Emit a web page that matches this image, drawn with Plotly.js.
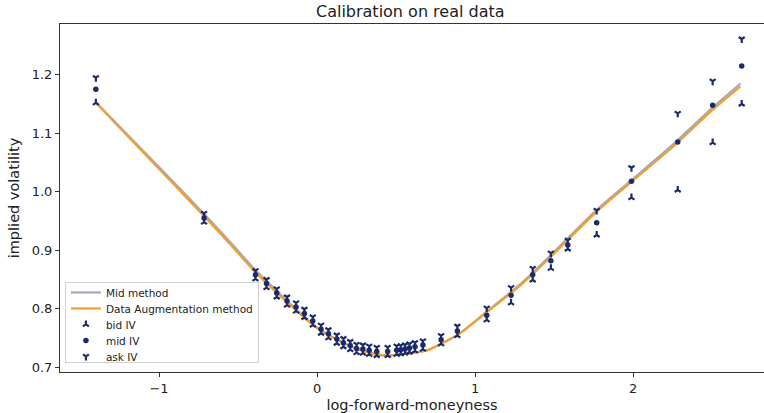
<!DOCTYPE html>
<html>
<head>
<meta charset="utf-8">
<script src="https://cdn.plot.ly/plotly-3.0.1.min.js"></script>
<style>html,body{margin:0;padding:0;background:#fff;}#chart{width:764px;height:413px;}</style>
</head>
<body>
<div id="chart"></div>
<script>
// Market quotes (log-forward-moneyness, implied vols)
const moneyness = [-1.40, -0.715, -0.39, -0.32, -0.255, -0.19, -0.133, -0.08, -0.027, 0.025, 0.072, 0.125, 0.167, 0.21, 0.25, 0.29, 0.33, 0.378, 0.447, 0.504, 0.53, 0.557, 0.585, 0.62, 0.67, 0.785, 0.888, 1.074, 1.228, 1.365, 1.48, 1.587, 1.77, 1.99, 2.283, 2.504, 2.688];
const midIV = [1.175, 0.955, 0.858, 0.843, 0.827, 0.813, 0.803, 0.792, 0.779, 0.765, 0.757, 0.748, 0.742, 0.737, 0.732, 0.731, 0.729, 0.727, 0.727, 0.729, 0.730, 0.731, 0.733, 0.735, 0.738, 0.747, 0.762, 0.789, 0.823, 0.858, 0.882, 0.909, 0.947, 1.018, 1.085, 1.148, 1.215];
const bidIV = [1.152, 0.948, 0.851, 0.836, 0.820, 0.806, 0.796, 0.785, 0.772, 0.758, 0.750, 0.741, 0.735, 0.730, 0.725, 0.724, 0.722, 0.720, 0.720, 0.722, 0.723, 0.724, 0.726, 0.728, 0.731, 0.740, 0.754, 0.781, 0.810, 0.849, 0.869, 0.902, 0.926, 0.990, 1.003, 1.084, 1.150];
const askIV = [1.195, 0.963, 0.865, 0.850, 0.834, 0.820, 0.810, 0.799, 0.786, 0.772, 0.764, 0.755, 0.749, 0.744, 0.739, 0.738, 0.736, 0.734, 0.734, 0.736, 0.737, 0.738, 0.740, 0.742, 0.745, 0.754, 0.770, 0.801, 0.836, 0.869, 0.895, 0.917, 0.968, 1.041, 1.134, 1.189, 1.261];

// Calibrated smiles
const curveK = [-1.40, -1.05, -0.715, -0.55, -0.39, -0.25, -0.10, 0.00, 0.10, 0.20, 0.30, 0.40, 0.45, 0.50, 0.60, 0.70, 0.80, 0.90, 1.07, 1.30, 1.50, 1.77, 2.00, 2.25, 2.50, 2.68];
const dataAugIV = [1.152, 1.053, 0.958, 0.910, 0.862, 0.826, 0.789, 0.767, 0.751, 0.737, 0.727, 0.721, 0.720, 0.721, 0.724, 0.729, 0.742, 0.757, 0.793, 0.843, 0.894, 0.966, 1.019, 1.076, 1.139, 1.180];
const midMethodIV = [1.153, 1.056, 0.962, 0.914, 0.866, 0.829, 0.791, 0.768, 0.751, 0.737, 0.727, 0.721, 0.720, 0.721, 0.724, 0.729, 0.742, 0.757, 0.794, 0.845, 0.897, 0.969, 1.022, 1.080, 1.143, 1.185];

const xTicks = [-1, 0, 1, 2];
const yTicks = [0.7, 0.8, 0.9, 1.0, 1.1, 1.2];

const navy = '#1a2a6c';
const traces = [
  {x: curveK, y: midMethodIV, mode: 'lines', name: 'Mid method', line: {color: '#a3a7bd', width: 2.2, shape: 'spline', smoothing: 0.6}},
  {x: curveK, y: dataAugIV, mode: 'lines', name: 'Data Augmentation method', line: {color: '#f0a030', width: 2.2, shape: 'spline', smoothing: 0.6}},
  {x: moneyness, y: bidIV, mode: 'markers', name: 'bid IV', marker: {symbol: 'y-up', size: 5, color: navy, line: {color: navy, width: 2.2}}},
  {x: moneyness, y: midIV, mode: 'markers', name: 'mid IV', marker: {symbol: 'circle', size: 5.5, color: navy}},
  {x: moneyness, y: askIV, mode: 'markers', name: 'ask IV', marker: {symbol: 'y-down', size: 5, color: navy, line: {color: navy, width: 2.2}}}
];

const axisCommon = {
  showgrid: false, zeroline: false, showline: true, linecolor: '#333', linewidth: 1,
  ticks: 'outside', ticklen: 4, tickcolor: '#333',
  tickfont: {family: 'DejaVu Sans', size: 13, color: '#222'}
};

const layout = {
  width: 764, height: 413,
  margin: {l: 60, r: 0, t: 24, b: 41},
  paper_bgcolor: '#fff', plot_bgcolor: '#fff',
  font: {family: 'DejaVu Sans', color: '#222'},
  title: {text: 'Calibration on real data', font: {family: 'DejaVu Sans', size: 16, color: '#222'}, x: 0.537, xanchor: 'center', y: 0.972, yanchor: 'middle'},
  xaxis: Object.assign({}, axisCommon, {
    mirror: true,
    range: [-1.627, 2.829], tickvals: xTicks, ticktext: xTicks.map(v => v < 0 ? '\u2212' + Math.abs(v) : String(v)),
    title: {text: 'log-forward-moneyness', font: {family: 'DejaVu Sans', size: 14.5, color: '#222'}, standoff: 6}
  }),
  yaxis: Object.assign({}, axisCommon, {
    mirror: false,
    range: [0.6918, 1.2867], tickvals: yTicks, ticktext: yTicks.map(v => v.toFixed(1)),
    title: {text: 'implied volatility', font: {family: 'DejaVu Sans', size: 14.5, color: '#222'}, standoff: 8}
  }),
  showlegend: true,
  legend: {
    x: 0.007, y: 0.026, xanchor: 'left', yanchor: 'bottom',
    bgcolor: 'rgba(255,255,255,0.85)', bordercolor: '#d0d0d0', borderwidth: 1,
    font: {family: 'DejaVu Sans', size: 10.5, color: '#222'},
    tracegroupgap: 0, itemwidth: 30
  }
};

function parseT(s) {
  const m = /translate\(\s*([-\d.e]+)[ ,]+([-\d.e]+)\s*\)/.exec(s || '');
  return m ? [parseFloat(m[1]), parseFloat(m[2])] : [0, 0];
}

Plotly.newPlot('chart', traces, layout, {staticPlot: true, displayModeBar: false}).then(gd => {
  // tighten legend row spacing to match the compact reference legend
  const leg = gd.querySelector('.legend');
  if (!leg) return;
  const items = Array.from(leg.querySelectorAll('.traces'));
  if (items.length < 2) return;
  const ys = items.map(it => parseT(it.getAttribute('transform')));
  const oldStep = ys[1][1] - ys[0][1];
  const newStep = 16;
  const delta = (oldStep - newStep) * (items.length - 1);
  items.forEach((it, i) => {
    it.setAttribute('transform', 'translate(' + ys[i][0] + ',' + (ys[0][1] - 5 + i * newStep) + ')');
  });
  const shrink = delta + 14;
  leg.querySelectorAll('rect.bg, clipPath rect').forEach(r => {
    const h = parseFloat(r.getAttribute('height'));
    if (!isNaN(h)) r.setAttribute('height', h - shrink);
  });
  const lt = parseT(leg.getAttribute('transform'));
  leg.setAttribute('transform', 'translate(' + lt[0] + ',' + (lt[1] + shrink) + ')');
});
</script>
</body>
</html>
